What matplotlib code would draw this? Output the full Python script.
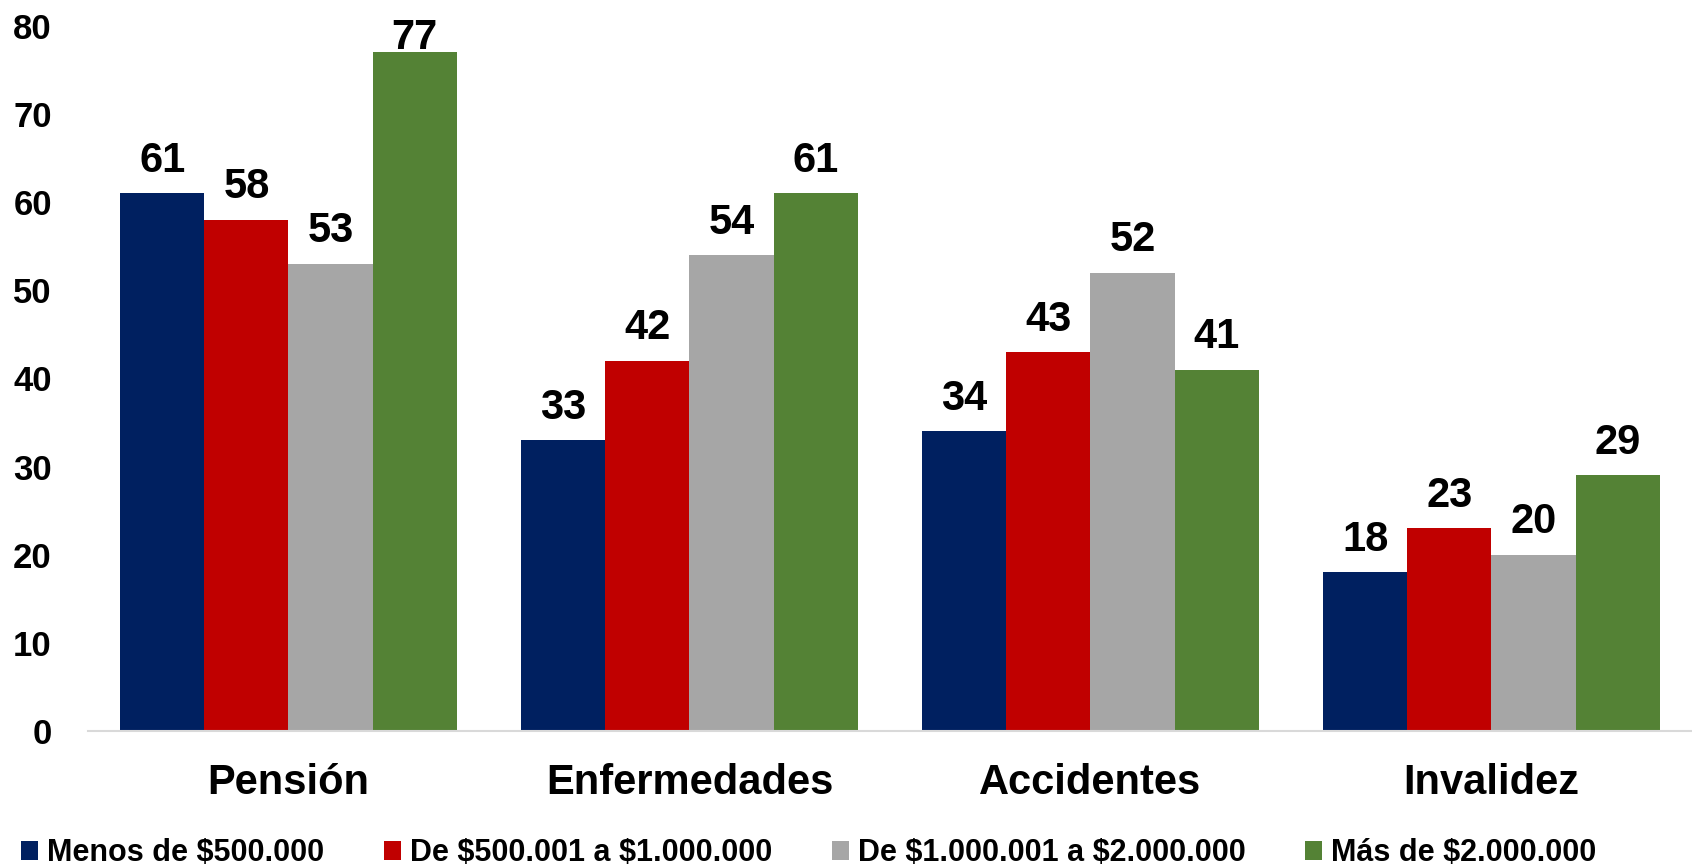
import numpy as np
import matplotlib
matplotlib.use('Agg')
import matplotlib.pyplot as plt
from matplotlib.patches import Patch

plt.rcParams['font.family'] = ['Liberation Sans', 'DejaVu Sans']
plt.rcParams['font.weight'] = 'bold'
plt.rcParams['text.parse_math'] = False

categorias = ['Pensión', 'Enfermedades', 'Accidentes', 'Invalidez']
series = ['Menos de $500.000', 'De $500.001 a $1.000.000',
          'De $1.000.001 a $2.000.000', 'Más de $2.000.000']
menos_500 = [61, 33, 34, 18]
de_500_1m = [58, 42, 43, 23]
de_1m_2m = [53, 54, 52, 20]
mas_2m = [77, 61, 41, 29]
colores = ['#002060', '#C00000', '#A6A6A6', '#548235']

valores = [menos_500, de_500_1m, de_1m_2m, mas_2m]

fig = plt.figure(figsize=(16.92, 8.67), dpi=100)
ax = fig.add_axes([0.052, 0.157, 0.948, 0.813])

x = np.arange(len(categorias))
ancho = 0.21
for i, (vals, col) in enumerate(zip(valores, colores)):
    pos = x + (i - 1.5) * ancho
    ax.bar(pos, vals, width=ancho, color=col, edgecolor='none')
    for px_, v in zip(pos, vals):
        # la etiqueta que no cabe arriba se pega a la barra (como en Excel)
        off = 9 if v < 75 else -4
        ax.annotate(str(v), (px_, v), xytext=(0, off), textcoords='offset points',
                    ha='center', va='bottom', fontsize=30, fontweight='bold',
                    annotation_clip=False)

ax.set_xlim(-0.5, len(categorias) - 0.5)
ax.set_ylim(0, 80)
ax.set_yticks(range(0, 81, 10))
ax.set_xticks(x)
ax.set_xticklabels(categorias, fontsize=30, fontweight='bold')
ax.tick_params(axis='x', length=0, pad=23)
ax.tick_params(axis='y', length=0, pad=26, labelsize=25)
for lab in ax.get_yticklabels():
    lab.set_fontweight('bold')

for s in ['top', 'right', 'left']:
    ax.spines[s].set_visible(False)
ax.spines['bottom'].set_color('#D9D9D9')
ax.spines['bottom'].set_linewidth(1.5)

handles = [Patch(facecolor=c, edgecolor='none') for c in colores]
fig.legend(handles, series, loc='lower left', bbox_to_anchor=(0.0, -0.026),
           ncol=4, frameon=False, handlelength=0.55, handleheight=0.55,
           handletextpad=0.3, columnspacing=1.95, borderpad=0.2,
           prop={'weight': 'bold', 'size': 22})

fig.savefig('out.png', dpi=100)
